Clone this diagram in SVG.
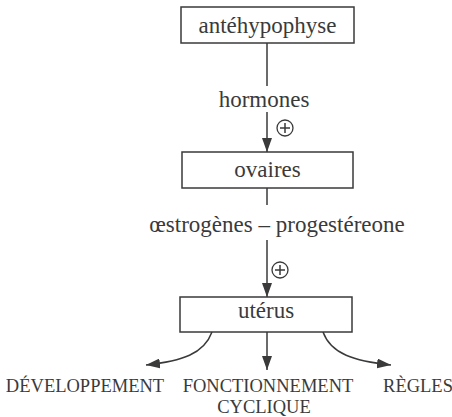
<svg xmlns="http://www.w3.org/2000/svg" width="452" height="417" viewBox="0 0 452 417">
<style>
.box{fill:#fff;stroke:#3a3a3a;stroke-width:1.5}
.t{font-family:"Liberation Serif","Times New Roman",serif;font-size:23px;fill:#3a3a3a;text-anchor:middle}
.c{font-family:"Liberation Serif","Times New Roman",serif;font-size:18.5px;fill:#3a3a3a;text-anchor:middle}
.ln{fill:none;stroke:#3a3a3a;stroke-width:1.5}
.plus{fill:#fff;stroke:#3a3a3a;stroke-width:1.3}
</style>
<defs>
<marker id="ah" viewBox="0 0 14 10" refX="14" refY="5" markerWidth="14" markerHeight="10" markerUnits="userSpaceOnUse" orient="auto">
<path d="M0,0 L14,5 L0,10 Z" fill="#3a3a3a"/>
</marker>
</defs>
<rect width="452" height="417" fill="#fff"/>
<g id="connectors">
<line class="ln" x1="267" y1="43" x2="267" y2="86"/>
<line class="ln" x1="267" y1="112" x2="267" y2="152" marker-end="url(#ah)"/>
<line class="ln" x1="267" y1="188" x2="267" y2="205"/>
<line class="ln" x1="267" y1="240" x2="267" y2="297" marker-end="url(#ah)"/>
<path class="ln" d="M212,332 C204,354 182,361 146,365" marker-end="url(#ah)"/>
<line class="ln" x1="267" y1="332" x2="267" y2="370" marker-end="url(#ah)"/>
<path class="ln" d="M323,332 C331,354 354,361 391,365" marker-end="url(#ah)"/>
<text class="t" x="264" y="107">hormones</text>
<g id="plus1"><circle class="plus" cx="285" cy="128" r="8"/><path class="ln" stroke-width="1.2" d="M280,128 H290 M285,123 V133"/></g>
<text class="t" x="277" y="232">œstrogènes – progestéreone</text>
<g id="plus2"><circle class="plus" cx="280" cy="270" r="8"/><path class="ln" stroke-width="1.2" d="M275,270 H285 M280,265 V275"/></g>
</g>
<g id="antehypophyse">
<rect class="box" x="181" y="7" width="173" height="36"/>
<text class="t" x="267.5" y="33">antéhypophyse</text>
</g>
<g id="ovaires">
<rect class="box" x="182" y="152" width="171" height="36"/>
<text class="t" x="267.5" y="177">ovaires</text>
</g>
<g id="uterus">
<rect class="box" x="180" y="297" width="172" height="35"/>
<text class="t" x="266" y="318">utérus</text>
</g>
<g id="developpement"><text class="c" x="85" y="392">DÉVELOPPEMENT</text></g>
<g id="fonctionnement"><text class="c" x="268" y="392">FONCTIONNEMENT</text><text class="c" x="264" y="413">CYCLIQUE</text></g>
<g id="regles"><text class="c" x="418" y="392">RÈGLES</text></g>
</svg>
